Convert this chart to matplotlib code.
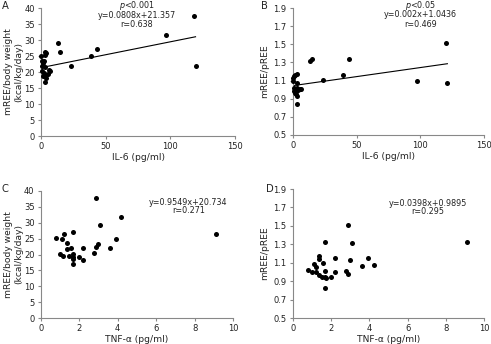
import matplotlib.pyplot as plt
import numpy as np

# Panel A / B: IL-6 vs mREE
il6_a = [0.3, 0.5, 1.5, 0.8, 2.8, 2.1, 3.3, 5.4, 6.7, 4.1, 3.3, 1.3, 3.3, 2.8, 3.6, 2.6, 6.4, 1.0,
         12.9, 14.7, 23.4, 38.6, 43.5, 96.4, 118.5, 119.5]
ree_bw_a = [24.9, 23.3, 22.8, 21.9, 21.7, 19.6, 19.1, 19.3, 20.2, 18.1, 16.8, 18.6, 26.3, 25.4, 26.0, 23.5, 20.7, 20.2,
            29.1, 26.3, 22.0, 24.9, 27.2, 31.7, 37.6, 22.0]

il6_b = [0.3, 0.5, 1.3, 1.8, 3.1, 3.4, 3.4, 1.0, 1.5, 2.1, 2.8, 3.3, 3.3, 4.1, 5.4, 6.7, 2.6, 0.8,
         13.5, 14.9, 24.0, 39.2, 44.4, 97.6, 120.3, 121.1]
ree_ratio_b = [1.13, 1.10, 1.15, 1.16, 1.17, 1.07, 0.84, 0.98, 1.00, 0.96, 0.95, 0.93, 1.02, 1.00, 1.01, 1.01, 0.99, 1.02,
               1.32, 1.34, 1.11, 1.16, 1.34, 1.09, 1.51, 1.07]

# Panel C / D: TNF-alpha vs mREE
tnf_c = [0.79, 0.99, 1.09, 1.19, 1.17, 1.38, 1.38, 1.48, 1.57, 1.69, 1.69, 1.69, 1.69, 1.69, 1.99, 2.18, 2.18,
         2.78, 2.89, 2.89, 2.99, 3.08, 3.58, 3.91, 4.19, 9.08]
ree_bw_c = [25.3, 20.3, 24.8, 26.5, 19.6, 23.5, 21.7, 19.6, 22.1, 27.2, 20.2, 19.3, 18.5, 16.9, 19.1, 22.0, 18.3,
            20.6, 37.9, 22.5, 23.3, 29.2, 22.1, 24.9, 31.8, 26.5]

tnf_d = [0.78, 0.99, 1.10, 1.20, 1.20, 1.39, 1.39, 1.39, 1.51, 1.60, 1.69, 1.69, 1.72, 1.69, 1.69, 2.00, 2.21,
         2.21, 2.78, 2.90, 2.90, 3.01, 3.09, 3.62, 3.91, 4.22, 9.08]
ree_ratio_d = [1.02, 1.00, 1.09, 1.05, 1.00, 1.17, 1.14, 0.97, 0.95, 1.10, 1.01, 0.94, 0.93, 1.33, 0.83, 0.94, 1.15,
               1.00, 1.01, 0.98, 1.51, 1.13, 1.31, 1.06, 1.15, 1.08, 1.33]

# Regression lines (slope, intercept)
fit_a = (0.0808, 21.357)
fit_b = (0.002, 1.0436)

FS = 6.0
NFS = 5.8
LFS = 6.6
TXT = '#222222'
SPINE = '#888888'


def style_axes(ax, xlim, xticks, ylim, yticks, yfmt):
    for side in ('top', 'right'):
        ax.spines[side].set_visible(False)
    for side in ('left', 'bottom'):
        ax.spines[side].set_color(SPINE)
        ax.spines[side].set_linewidth(0.8)
    ax.set_xlim(*xlim)
    ax.set_ylim(*ylim)
    ax.set_xticks(xticks)
    ax.set_yticks(yticks)
    ax.set_yticklabels([yfmt.format(v) for v in yticks])
    ax.tick_params(direction='out', length=2.5, width=0.8, color=SPINE,
                   labelsize=FS, labelcolor=TXT, pad=2)


fig = plt.figure(figsize=(4.91, 3.44), dpi=100)
W, H = 491, 344


def add_axes(x0, x1, ytop, ybot):
    return fig.add_axes([x0 / W, (H - ybot) / H, (x1 - x0) / W, (ybot - ytop) / H])


ax_a = add_axes(41, 235, 8, 136)
ax_b = add_axes(292.7, 484.3, 8, 135)
ax_c = add_axes(40.7, 233.3, 191, 318)
ax_d = add_axes(292.7, 484.3, 189, 318)

dot = dict(s=13, color='black', linewidths=0, zorder=3, clip_on=False)


def note(ax, x, y, s):
    ax.text(x, y, s, transform=ax.transAxes, ha='center', va='center', fontsize=NFS, color=TXT)


# A
ax_a.scatter(il6_a, ree_bw_a, **dot)
xs = np.array([min(il6_a), max(il6_a)])
ax_a.plot(xs, fit_a[0] * xs + fit_a[1], color='black', lw=0.8)
style_axes(ax_a, (0, 150), [0, 50, 100, 150], (0, 40), range(0, 41, 5), '{:d}')
ax_a.set_xlabel('IL-6 (pg/ml)', fontsize=LFS, color=TXT, labelpad=1.5)
ax_a.set_ylabel('mREE/body weight\n(kcal/kg/day)', fontsize=LFS, color=TXT, labelpad=0.5,
                linespacing=1.15)
note(ax_a, 0.495, 1.02, r'$\it{p}$<0.001')
note(ax_a, 0.495, 0.945, 'y=0.0808x+21.357')
note(ax_a, 0.495, 0.873, 'r=0.638')

# B
ax_b.scatter(il6_b, ree_ratio_b, **dot)
xs = np.array([min(il6_b), max(il6_b)])
ax_b.plot(xs, fit_b[0] * xs + fit_b[1], color='black', lw=0.8)
style_axes(ax_b, (0, 150), [0, 50, 100, 150], (0.5, 1.9), np.arange(0.5, 1.91, 0.2), '{:.1f}')
ax_b.set_xlabel('IL-6 (pg/ml)', fontsize=LFS, color=TXT, labelpad=1.5)
ax_b.set_ylabel('mREE/pREE', fontsize=LFS, color=TXT, labelpad=3)
note(ax_b, 0.668, 1.02, r'$\it{p}$<0.05')
note(ax_b, 0.668, 0.945, 'y=0.002x+1.0436')
note(ax_b, 0.668, 0.873, 'r=0.469')

# C
ax_c.scatter(tnf_c, ree_bw_c, **dot)
style_axes(ax_c, (0, 10), [0, 2, 4, 6, 8, 10], (0, 40), range(0, 41, 5), '{:d}')
ax_c.set_xlabel('TNF-α (pg/ml)', fontsize=LFS, color=TXT, labelpad=1.5)
ax_c.set_ylabel('mREE/body weight\n(kcal/kg/day)', fontsize=LFS, color=TXT, labelpad=0.5,
                linespacing=1.15)
note(ax_c, 0.766, 0.913, 'y=0.9549x+20.734')
note(ax_c, 0.766, 0.848, 'r=0.271')

# D
ax_d.scatter(tnf_d, ree_ratio_d, **dot)
style_axes(ax_d, (0, 10), [0, 2, 4, 6, 8, 10], (0.5, 1.9), np.arange(0.5, 1.91, 0.2), '{:.1f}')
ax_d.set_xlabel('TNF-α (pg/ml)', fontsize=LFS, color=TXT, labelpad=1.5)
ax_d.set_ylabel('mREE/pREE', fontsize=LFS, color=TXT, labelpad=3)
note(ax_d, 0.705, 0.891, 'y=0.0398x+0.9895')
note(ax_d, 0.705, 0.827, 'r=0.295')

# Panel letters
for lbl, x, y in [('A', 2, 6), ('B', 261, 6), ('C', 2, 189), ('D', 266, 189)]:
    fig.text(x / W, 1 - y / H, lbl, ha='left', va='center', fontsize=LFS + 0.6, color=TXT)

fig.savefig('out.png', dpi=100)
